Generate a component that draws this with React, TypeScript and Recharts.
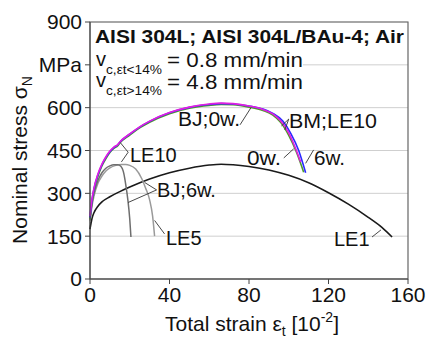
import { LineChart, Line, XAxis, YAxis, CartesianGrid, ReferenceLine, ReferenceArea } from 'recharts';

// LE1 (black, long ductile curve)
const strainLE1 = [0, 1, 2, 4, 6, 10, 15, 20, 30, 40, 50, 60, 66, 72, 80, 90, 100, 110, 120, 130, 140, 147, 152];
const stressLE1 = [175, 212, 232, 255, 270, 288, 306, 322, 350, 372, 388, 399, 402, 400, 394, 382, 363, 337, 302, 262, 216, 180, 147];

// LE5 (dark grey, short)
const strainLE5 = [0, 1, 2, 4, 6, 8, 10, 12, 14, 15.5, 17, 18, 19, 20, 20.6];
const stressLE5 = [205, 265, 300, 345, 372, 388, 396, 400, 400, 395, 370, 330, 280, 210, 147];

// BJ;6w. (light grey)
const strainBJ6 = [0, 1, 2, 4, 6, 8, 10, 13, 16, 18, 20, 23, 26, 28, 30, 31.5, 32.5];
const stressBJ6 = [200, 255, 290, 335, 360, 378, 389, 398, 401, 401, 398, 385, 352, 318, 277, 220, 150];

// BJ;0w. (magenta)
const strainBJ0 = [0, 1, 2, 4, 6, 8, 10, 12, 14, 15, 20, 25, 30, 40, 50, 60, 66, 72, 80, 87, 92, 96, 100, 103, 106];
const stressBJ0 = [220, 280, 318, 368, 402, 428, 448, 462, 471, 480, 508, 533, 553, 583, 602, 613, 616, 614, 606, 594, 578, 553, 512, 465, 410];

// BM;LE10 (blue)
const strainBM = [0, 1, 2, 4, 6, 8, 10, 12, 14, 15, 20, 25, 30, 40, 50, 60, 66, 72, 80, 87, 92, 97, 101, 105, 108.5];
const stressBM = [215, 276, 315, 365, 400, 426, 446, 460, 470, 479, 507, 532, 552, 582, 601, 611, 614, 613, 606, 595, 580, 553, 510, 450, 372];

// 0w. (green)
const strainG = [0, 1, 2, 4, 6, 8, 10, 12, 14, 15, 20, 25, 30, 40, 50, 60, 66, 72, 80, 87, 92, 96, 100, 104, 107.5];
const stressG = [210, 270, 310, 360, 396, 422, 443, 457, 467, 476, 504, 529, 549, 579, 598, 608, 611, 610, 602, 590, 574, 548, 503, 442, 374];

const xTicks = [0, 40, 80, 120, 160];
const yTicks = [0, 150, 300, 450, 600, 750, 900];

const pts = (xs: number[], ys: number[]) => xs.map((x, i) => ({ x, y: ys[i] }));

// label leader lines, [x1, y1, x2, y2] in data units
const leaders = [
  [15.2, 478, 19.2, 444],
  [19.2, 444, 15.8, 410],
  [33.5, 312, 27.5, 338],
  [33.5, 312, 19.2, 268],
  [37.5, 158, 32.5, 205],
  [75.5, 540, 81, 600],
  [100, 560, 96.3, 536],
  [100, 560, 98, 522],
  [97.5, 424, 102.5, 456],
  [112.5, 452, 108.5, 405],
  [141.9, 147, 146.4, 172],
];

const font = '"Liberation Sans", Arial, sans-serif';

export default function App() {
  return (
    <div style={{ position: 'absolute', left: 0, top: 0, width: 428, height: 338, background: '#fff' }}>
      <LineChart width={428} height={338} margin={{ top: 22, right: 20, bottom: 0, left: 0 }}>
        <CartesianGrid vertical={false} stroke="#cfcfcf" />
        <XAxis
          type="number"
          dataKey="x"
          domain={[0, 160]}
          ticks={xTicks}
          height={59}
          tickSize={5}
          tickMargin={3}
          stroke="#444"
          tick={{ fontSize: 21, fill: '#111', fontFamily: font }}
        />
        <YAxis
          type="number"
          dataKey="y"
          domain={[0, 900]}
          ticks={yTicks}
          width={90}
          tickSize={5}
          tickMargin={3}
          stroke="#444"
          tickFormatter={(v: number) => (v === 750 ? 'MPa' : String(v))}
          tick={{ fontSize: 21, fill: '#111', fontFamily: font }}
        />
        <ReferenceArea x1={0} x2={160} y1={0} y2={900} fill="none" stroke="#666" strokeWidth={1.2} />
        <Line data={pts(strainLE1, stressLE1)} dataKey="y" type="monotone" stroke="#1a1a1a" strokeWidth={1.6} dot={false} isAnimationActive={false} />
        <Line data={pts(strainBJ6, stressBJ6)} dataKey="y" type="monotone" stroke="#9a9a9a" strokeWidth={1.5} dot={false} isAnimationActive={false} />
        <Line data={pts(strainLE5, stressLE5)} dataKey="y" type="monotone" stroke="#6e6e6e" strokeWidth={1.5} dot={false} isAnimationActive={false} />
        <Line data={pts(strainG, stressG)} dataKey="y" type="monotone" stroke="#4f9a2a" strokeWidth={1.6} dot={false} isAnimationActive={false} />
        <Line data={pts(strainBM, stressBM)} dataKey="y" type="monotone" stroke="#2a2aff" strokeWidth={1.6} dot={false} isAnimationActive={false} />
        <Line data={pts(strainBJ0, stressBJ0)} dataKey="y" type="monotone" stroke="#e020e0" strokeWidth={1.6} dot={false} isAnimationActive={false} />
        {leaders.map((l, i) => (
          <ReferenceLine
            key={i}
            segment={[{ x: l[0], y: l[1] }, { x: l[2], y: l[3] }]}
            stroke="#333"
            strokeWidth={0.9}
            ifOverflow="visible"
          />
        ))}
      </LineChart>
      <svg
        width={428}
        height={338}
        style={{ position: 'absolute', left: 0, top: 0, pointerEvents: 'none' }}
        fontFamily={font}
        fill="#111"
      >
        <rect x={91} y={50} width={212} height={42} fill="#fff" />
        <text x={95} y={43} fontSize={18} fontWeight="bold" textLength={309} lengthAdjust="spacingAndGlyphs">
          AISI 304L; AISI 304L/BAu-4; Air
        </text>
        <text x={96} y={66} fontSize={20}>v</text>
        <text x={106} y={74} fontSize={13} textLength={56} lengthAdjust="spacingAndGlyphs">c,εt&lt;14%</text>
        <text x={167} y={67} fontSize={20} textLength={136} lengthAdjust="spacingAndGlyphs">= 0.8 mm/min</text>
        <text x={96} y={87} fontSize={20}>v</text>
        <text x={106} y={95} fontSize={13} textLength={56} lengthAdjust="spacingAndGlyphs">c,εt&gt;14%</text>
        <text x={167} y={89} fontSize={20} textLength={136} lengthAdjust="spacingAndGlyphs">= 4.8 mm/min</text>

        <text x={130} y={162} fontSize={20}>LE10</text>
        <text x={157} y={197} fontSize={20}>BJ;6w.</text>
        <text x={166} y={245} fontSize={20}>LE5</text>
        <text x={178} y={126} fontSize={20} textLength={62} lengthAdjust="spacingAndGlyphs">BJ;0w.</text>
        <text x={289} y={128} fontSize={20} textLength={88} lengthAdjust="spacingAndGlyphs">BM;LE10</text>
        <text x={247} y={165} fontSize={20} textLength={34} lengthAdjust="spacingAndGlyphs">0w.</text>
        <text x={314} y={165} fontSize={20} textLength={31} lengthAdjust="spacingAndGlyphs">6w.</text>
        <text x={334} y={246} fontSize={20}>LE1</text>

        <text transform="translate(27,160) rotate(-90)" textAnchor="middle" fontSize={21}>
          Nominal stress σ<tspan fontSize={14} dy={5}>N</tspan>
        </text>
        <text x={252} y={331} textAnchor="middle" fontSize={21}>
          Total strain ε<tspan fontSize={14} dy={5}>t</tspan>
          <tspan dy={-5}> [10</tspan>
          <tspan fontSize={14} dy={-9}>-2</tspan>
          <tspan dy={9}>]</tspan>
        </text>
      </svg>
    </div>
  );
}
